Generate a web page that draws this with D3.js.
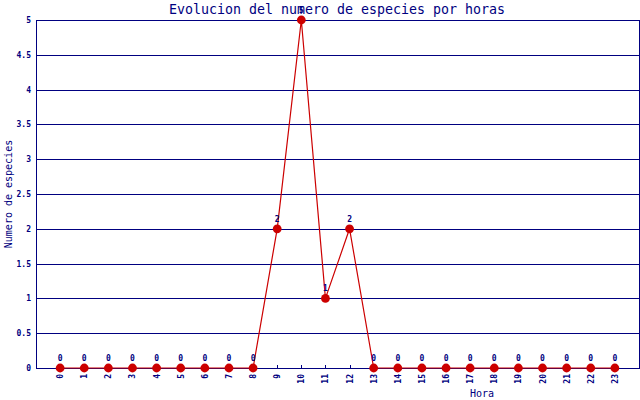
<!DOCTYPE html>
<html><head><meta charset="utf-8">
<script src="https://cdn.jsdelivr.net/npm/d3@7"></script>
<style>body{margin:0;background:#fff}svg{display:block}</style>
</head><body>
<svg id="c" width="640" height="400"></svg>
<script>
const hours = d3.range(0, 24);
const species = [0,0,0,0,0,0,0,0,0,2,5,1,2,0,0,0,0,0,0,0,0,0,0,0];
const yTicks = [0,0.5,1,1.5,2,2.5,3,3.5,4,4.5,5];
const title = "Evolucion del numero de especies por horas";
const xTitle = "Hora";
const yTitle = "Numero de especies";

const navy = "#000080", red = "#cc0000";
const font = "DejaVu Sans Mono, monospace";
const svg = d3.select("#c");
const L = 36, R = 639, T = 20, B = 368;
const x = d3.scaleLinear().domain([-1, 24]).range([L, R]);
const y = d3.scaleLinear().domain([0, 5]).range([B, T]);

// grid
svg.append("g").selectAll("line").data(yTicks).join("line")
  .attr("x1", L).attr("x2", R)
  .attr("y1", d => Math.round(y(d)) + 0.5).attr("y2", d => Math.round(y(d)) + 0.5)
  .attr("stroke", navy).attr("stroke-width", 1);
// frame
svg.append("rect").attr("x", L + 0.5).attr("y", T + 0.5).attr("width", R - L).attr("height", B - T)
  .attr("fill", "none").attr("stroke", navy);

// y labels
svg.append("g").selectAll("text").data(yTicks).join("text")
  .attr("x", 31).attr("y", d => Math.round(y(d)) + 0.5).attr("dy", "0.35em")
  .attr("text-anchor", "end").attr("font-family", font).attr("font-size", 8).attr("font-weight", "bold")
  .attr("fill", navy).text(d => d);

// x ticks
svg.append("g").selectAll("line").data(hours).join("line")
  .attr("x1", d => Math.round(x(d)) + 0.5).attr("x2", d => Math.round(x(d)) + 0.5)
  .attr("y1", B).attr("y2", B - 3).attr("stroke", navy);
svg.append("g").selectAll("text").data(hours).join("text")
  .attr("transform", d => `translate(${Math.round(x(d)) + 3},${B + 6}) rotate(-90)`)
  .attr("text-anchor", "end").attr("font-family", font).attr("font-size", 8).attr("font-weight", "bold")
  .attr("fill", navy).text(d => d);

// line
const line = d3.line().x((d, i) => x(hours[i])).y(d => y(d));
svg.append("path").datum(species).attr("d", line)
  .attr("fill", "none").attr("stroke", red).attr("stroke-width", 1.2);
svg.append("g").selectAll("circle").data(species).join("circle")
  .attr("cx", (d, i) => x(hours[i])).attr("cy", d => y(d)).attr("r", 4.4).attr("fill", red);
svg.append("g").selectAll("text").data(species).join("text")
  .attr("x", (d, i) => x(hours[i])).attr("y", d => y(d) - 7)
  .attr("text-anchor", "middle").attr("font-family", font).attr("font-size", 8).attr("font-weight", "bold")
  .attr("fill", navy).text(d => d);

// titles
svg.append("text").attr("x", 337).attr("y", 14).attr("text-anchor", "middle")
  .attr("font-family", font).attr("font-size", 13.3).attr("fill", navy).text(title);
svg.append("text").attr("x", 482).attr("y", 397).attr("text-anchor", "middle")
  .attr("font-family", font).attr("font-size", 10).attr("fill", navy).text(xTitle);
svg.append("text").attr("transform", "translate(12,194) rotate(-90)").attr("text-anchor", "middle")
  .attr("font-family", font).attr("font-size", 10).attr("fill", navy).text(yTitle);
</script>
</body></html>
